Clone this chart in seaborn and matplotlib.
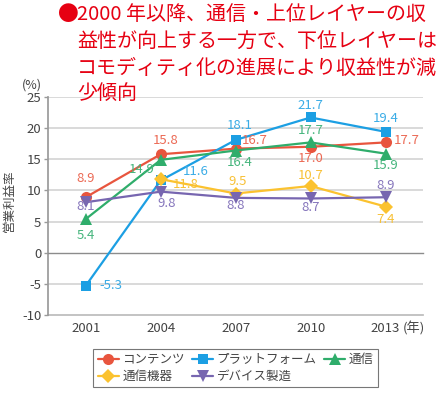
import numpy as np
import pandas as pd
import matplotlib
matplotlib.use("Agg")
import matplotlib.pyplot as plt
import seaborn as sns

years = ["2001", "2004", "2007", "2010", "2013"]
series_names = ["コンテンツ", "プラットフォーム", "通信", "通信機器", "デバイス製造"]
contents = [8.9, 15.8, 16.7, 17.0, 17.7]
platform = [-5.3, 11.6, 18.1, 21.7, 19.4]
telecom = [5.4, 14.9, 16.4, 17.7, 15.9]
equipment = [np.nan, 11.8, 9.5, 10.7, 7.4]
device = [8.1, 9.8, 8.8, 8.7, 8.9]
title_lines = ["2000 年以降、通信・上位レイヤーの収",
               "益性が向上する一方で、下位レイヤーは",
               "コモディティ化の進展により収益性が減",
               "少傾向"]

values = [contents, platform, telecom, equipment, device]
colors = ["#E8553E", "#1C9FE3", "#2FAD6B", "#FBC22F", "#7766B0"]
label_colors = ["#EC6A55", "#3AACE6", "#45B57C", "#F8C136", "#8676BC"]
markers = ["o", "s", "^", "D", "v"]
msizes = [8, 7, 8, 7, 8]
# label offsets in pixels (dx, dy, ha)
offsets = [
    [(0, 19, "center"), (5, 14, "center"), (6, 8, "left"), (0, -12, "center"), (8, 2, "left")],
    [(14, 0, "left"), (22, 9, "left"), (4, 14, "center"), (0, 12, "center"), (0, 13, "center")],
    [(0, -16, "center"), (-6, -10, "right"), (4, -12, "center"), (0, 12, "center"), (0, -12, "center")],
    [(0, 0, "center"), (12, -5, "left"), (2, 12, "center"), (0, 11, "center"), (0, -13, "center")],
    [(0, -4, "center"), (6, -12, "center"), (0, -8, "center"), (0, -9, "center"), (0, 12, "center")],
]

sns.set_theme(style="white")
plt.rcParams["font.family"] = ["Noto Sans CJK JP", "DejaVu Sans"]

fig = plt.figure(figsize=(4.43, 3.94), dpi=100)
ax = fig.add_axes([0.109, 0.2005, 0.846, 0.5535])

x = np.arange(len(years))
for i, name in enumerate(series_names):
    df = pd.DataFrame({"x": x, "y": values[i]})
    sns.lineplot(data=df, x="x", y="y", ax=ax, color=colors[i], marker=markers[i],
                 markersize=msizes[i], markeredgewidth=0, linewidth=1.6, label=name,
                 zorder=3)
    for j, v in enumerate(values[i]):
        if np.isnan(v):
            continue
        dx, dy, ha = offsets[i][j]
        ax.annotate(f"{v:.1f}", (x[j], v), xytext=(dx, dy), textcoords="offset pixels",
                    ha=ha, va="center", fontsize=9.5, color=label_colors[i], zorder=4)

ax.set_xlim(-0.5, 4.5)
ax.set_ylim(-10, 25)
ax.set_yticks(np.arange(-10, 26, 5))
ax.set_yticklabels([str(t) for t in range(-10, 26, 5)])
for yv in range(-5, 26, 5):
    if yv != 0:
        ax.axhline(yv, color="#D3D3D3", linewidth=1.2, zorder=1)
ax.grid(False)

# category axis at y=0
ax.spines["bottom"].set_position(("data", 0))
ax.spines["bottom"].set_color("#8C8C8C")
ax.spines["bottom"].set_linewidth(1.0)
ax.set_xticks(np.arange(0.5, 4.6, 1.0))
ax.set_xticklabels([])
ax.tick_params(axis="x", direction="out", length=4, width=1, color="#8C8C8C")
ax.spines["left"].set_color("#9A9A9A")
ax.spines["top"].set_visible(False)
ax.spines["right"].set_visible(False)
ax.tick_params(axis="y", left=True, length=3, width=1, color="#9A9A9A",
               labelsize=9.5, labelcolor="#444444", pad=2)

sec = ax.secondary_xaxis(0)
sec.set_xticks(x)
sec.set_xticklabels(years)
sec.tick_params(length=0, labelsize=9.5, labelcolor="#444444", pad=5)
sec.spines["bottom"].set_color("#BBBBBB")
ax.annotate("(年)", (x[-1], 0), xycoords=("data", "axes fraction"),
            xytext=(17, -13), textcoords="offset pixels", ha="left", va="center",
            fontsize=9.5, color="#444444")

ax.set_xlabel("")
ax.set_ylabel("")
fig.text(0.02, 0.49, "営業利益率", rotation=90, ha="center", va="center",
         fontsize=9, color="#444444")
fig.text(0.072, 0.785, "(%)", ha="center", va="center", fontsize=9, color="#444444")

ax.get_legend().remove()
handles, labels = ax.get_legend_handles_labels()
order = [0, 3, 1, 4, 2]
leg = fig.legend([handles[k] for k in order], [labels[k] for k in order],
                 loc="center", bbox_to_anchor=(0.532, 0.0655), ncol=3,
                 fontsize=9, frameon=True, fancybox=False, edgecolor="#555555",
                 handlelength=1.7, handletextpad=0.25, columnspacing=0.6,
                 borderpad=0.35, labelspacing=0.3, borderaxespad=0)
leg.get_frame().set_linewidth(0.8)
for t in leg.get_texts():
    t.set_color("#444444")

red = "#E60012"
fig.text(58 / 443, 1 - 15 / 394, "●", ha="left", va="center", fontsize=15, color=red)
ys = [15, 42, 68, 93]
for k, line in enumerate(title_lines):
    fig.text(77 / 443, 1 - ys[k] / 394, line, ha="left", va="center",
             fontsize=14.4, color=red)

fig.savefig("out.png", dpi=100)
